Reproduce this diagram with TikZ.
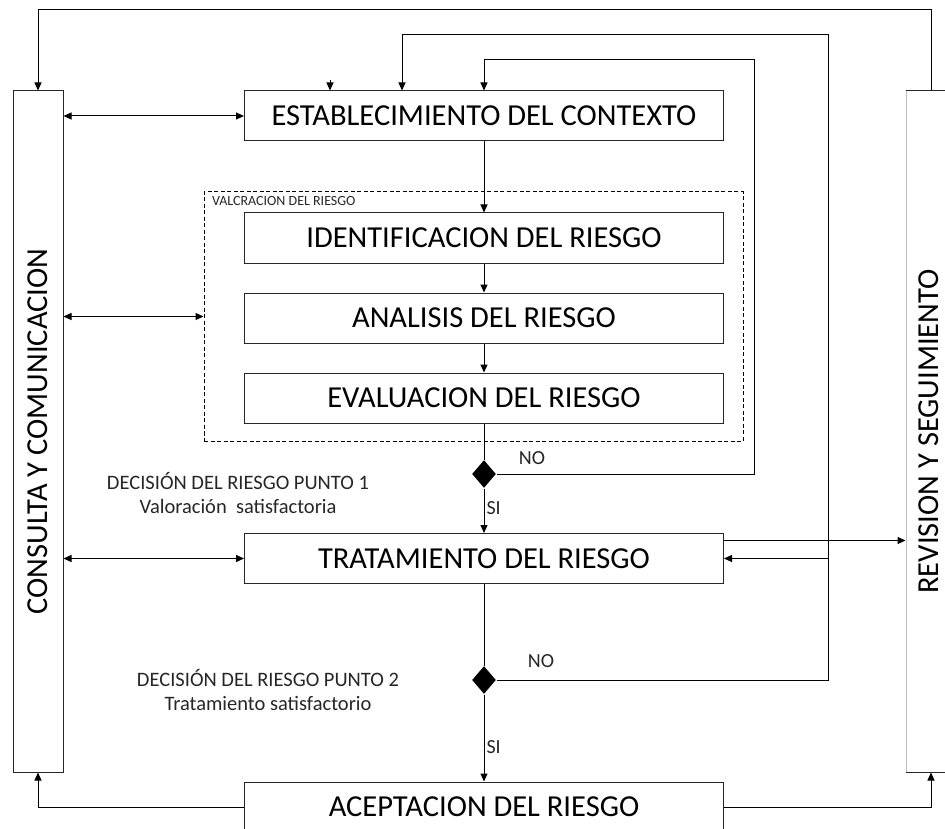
\documentclass[tikz,border=0pt]{standalone}
\usepackage{fontspec}
\setmainfont{Carlito}
\usetikzlibrary{arrows.meta,shapes.geometric}

\tikzset{
  stage/.style={rectangle,draw=black!85,line width=1pt,minimum width=479pt,minimum height=50pt,inner sep=0pt,font=\fontsize{30.5}{34}\selectfont},
  side/.style={rectangle,draw=black!85,line width=1pt,minimum width=50pt,minimum height=681pt,inner sep=0pt},
  sidetext/.style={rotate=90,inner sep=0pt,font=\fontsize{30.5}{34}\selectfont},
  decision/.style={diamond,fill=black,draw=none,minimum width=24pt,minimum height=28pt,inner sep=0pt},
  note/.style={align=center,inner sep=0pt,text=black!85,font=\fontsize{20.5}{24}\selectfont},
  tag/.style={inner sep=2pt,text=black!85,font=\fontsize{20}{22}\selectfont}
}

\begin{document}
\begin{tikzpicture}[x=1pt,y=-1pt,>={Triangle[length=8pt,width=7pt]},line width=1pt]
        \clip (0,0) rectangle (945,829);

        \node[side] (consulta) at (38,431.5) {};
        \node[sidetext] (consultaText) at (38,431.5) {CONSULTA Y COMUNICACION};
        \node[side,draw=black!25] (revision) at (931,431.5) {};
        \draw[black!85] (revision.north west) -- (revision.north east);
        \draw[black!85] (revision.south west) -- (revision.south east);
        \node[sidetext] (revisionText) at (929,431.5) {REVISION Y SEGUIMIENTO};

        \node[stage] (estab) at (484,116) {ESTABLECIMIENTO DEL CONTEXTO};
        \node[rectangle,draw,dashed,dash pattern=on 4pt off 2.5pt,minimum width=539pt,minimum height=249pt] (valor) at (473.5,316.5) {};
        \node[anchor=north west,inner sep=0pt,text=black!85,font=\fontsize{14}{16}\selectfont] (valorText)
             at ([xshift=8pt,yshift=-4pt]valor.north west) {VALCRACION DEL RIESGO};
        \node[stage] (ident) at (484,238) {IDENTIFICACION DEL RIESGO};
        \node[stage] (analisis) at (484,318) {ANALISIS DEL RIESGO};
        \node[stage] (eval) at (484,398) {EVALUACION DEL RIESGO};
        \node[decision] (d1) at (484,474) {};
        \node[stage] (trat) at (484,558.5) {TRATAMIENTO DEL RIESGO};
        \node[decision] (d2) at (484,680) {};
        \node[stage] (acept) at (484,807) {ACEPTACION DEL RIESGO};

        \node[note] (punto1) at (238,493) {DECISIÓN DEL RIESGO PUNTO 1\\Valoración\ \ satisfactoria};
        \node[note] (punto2) at (268,690) {DECISIÓN DEL RIESGO PUNTO 2\\Tratamiento satisfactorio};

        \coordinate (outer) at (931,10);
        \coordinate (loopB) at (828,35);
        \coordinate (loopA) at (754,60);
        \coordinate (stub) at (330,80);
        \coordinate (tratOut) at ([yshift=18pt]trat.east);

        \draw[->] (revision.north) -- (revision.north |- outer) -| (consulta.north);
        \draw[->] (d2.east) -| (loopB) -| ([xshift=-82pt]estab.north);
        \draw[->] (loopB |- trat.east) -- (trat.east);
        \draw[->] (d1.east) -| (loopA) -| (estab.north);
        \draw[->] (stub) -- (stub |- estab.north);

        \draw[<->] (consulta.east |- estab.west) -- (estab.west);
        \draw[<->] (consulta.east |- valor.west) -- (valor.west);
        \draw[<->] (consulta.east |- trat.west) -- (trat.west);

        \draw[->] (estab.south) -- (ident.north);
        \draw[->] (ident.south) -- (analisis.north);
        \draw[->] (analisis.south) -- (eval.north);
        \draw (eval.south) -- (d1.north);
        \draw[->] (d1.south) -- node[tag,right,pos=0.45] (si1) {SI} (trat.north);
        \draw (trat.south) -- (d2.north);
        \draw[->] (d2.south) -- node[tag,right,pos=0.6] (si2) {SI} (acept.north);
        \node[tag] (no1) at (532,458) {NO};
        \node[tag] (no2) at (541,661) {NO};

        \draw[->] (tratOut) -- (tratOut -| revision.west);
        \draw[->] (acept.west) -| (consulta.south);
        \draw[->] (acept.east) -| (revision.south);
\end{tikzpicture}
\end{document}
